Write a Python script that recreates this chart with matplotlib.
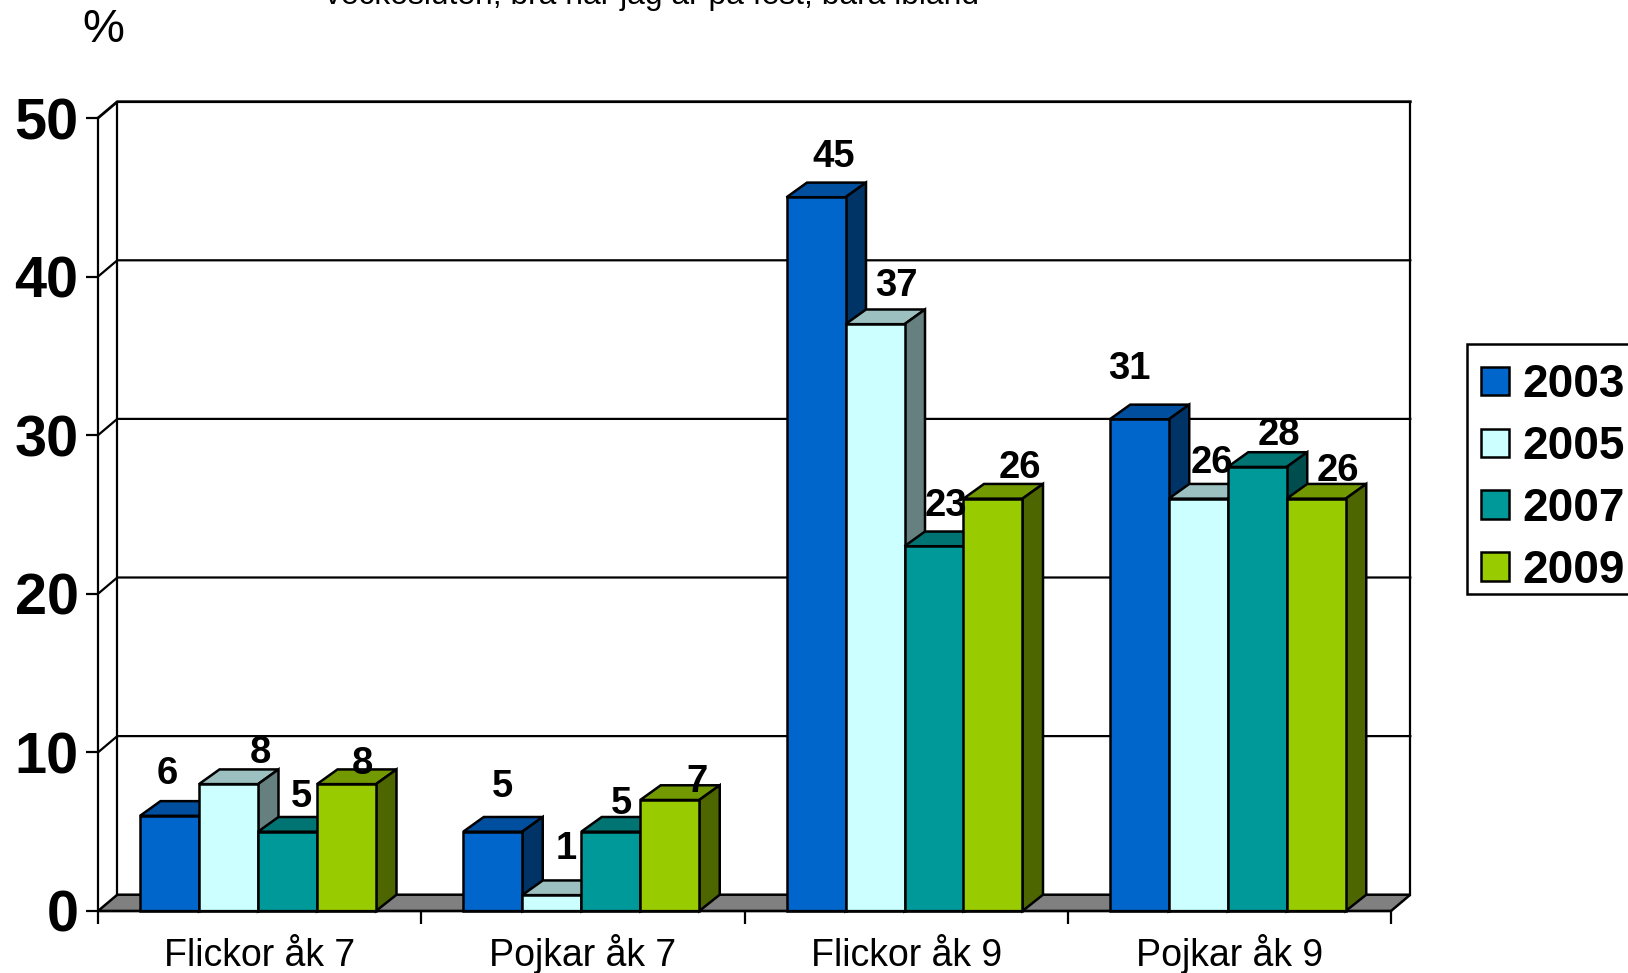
import matplotlib
matplotlib.use('Agg')
import matplotlib.pyplot as plt
from matplotlib.patches import Patch, Polygon, Rectangle

plt.rcParams['font.family'] = ['Liberation Sans', 'DejaVu Sans']

categories = ['Flickor åk 7', 'Pojkar åk 7', 'Flickor åk 9', 'Pojkar åk 9']
years = ['2003', '2005', '2007', '2009']
values_2003 = [6, 5, 45, 31]
values_2005 = [8, 1, 37, 26]
values_2007 = [5, 5, 23, 28]
values_2009 = [8, 7, 26, 26]
y_ticks = [0, 10, 20, 30, 40, 50]
title_text = 'veckosluten, bra när jag är på fest, bara ibland'

series = [values_2003, values_2005, values_2007, values_2009]
# front, top, side
colors = [('#0066CC', '#004E9E', '#003366'),
          ('#CCFFFF', '#9CC0C0', '#668080'),
          ('#009999', '#007373', '#004D4D'),
          ('#99CC00', '#739900', '#4D6600')]

# hand placed value labels, pixels from the bar's front top centre
label_dx = [[-2, 10, 18, -10], [32, 15, 21, 14], [14, 11, 12, 22], [16, 27, 27, 22]]
label_dy = [[42, 45, 40, 50], [31, 46, 38, 36], [35, 28, 40, 32], [20, 18, 31, 28]]

W, H = 1628, 973
fig = plt.figure(figsize=(W / 100, H / 100), dpi=100, facecolor='white')
ax = fig.add_axes([98 / W, 1 - 911 / H, (1391 - 98) / W, (911 - 118) / H])
ax.set_xlim(0, 4)
ax.set_ylim(0, 50)
ax.patch.set_visible(False)

wall_x = 19.3 / 323.25
wall_y = 16.3 / 15.86
bar_depth_x = 20.5 / 323.25
bar_depth_y = 14.7 / 15.86
bar_w = 59 / 323.25
group_off = 42 / 323.25
lw = 1.8
grid_lw = 1.6
z = 5


def poly(pts, color, zorder):
    ax.add_patch(Polygon(pts, closed=True, facecolor=color, edgecolor='black',
                         linewidth=lw, joinstyle='miter', clip_on=False, zorder=zorder))


# floor and back walls
poly([(0, 0), (wall_x, wall_y), (4 + wall_x, wall_y), (4, 0)], '#808080', 1)
for v in y_ticks[1:]:
    ax.plot([0, wall_x, 4 + wall_x], [v, v + wall_y, v + wall_y], color='black',
            lw=grid_lw if v < 50 else 2.0, clip_on=False, zorder=1)
ax.plot([wall_x, wall_x], [wall_y, 50 + wall_y], color='black', lw=grid_lw, clip_on=False, zorder=1)
ax.plot([4 + wall_x, 4 + wall_x], [wall_y, 50 + wall_y], color='black', lw=grid_lw, clip_on=False, zorder=1)

for g in range(len(categories)):
    for s, vals in enumerate(series):
        v = vals[g]
        left = g + group_off + s * bar_w
        right = left + bar_w
        front, top, side = colors[s]
        poly([(left, v), (left + bar_depth_x, v + bar_depth_y), (right + bar_depth_x, v + bar_depth_y), (right, v)], top, z)
        poly([(right, 0), (right + bar_depth_x, wall_y), (right + bar_depth_x, v + bar_depth_y), (right, v)], side, z)
        ax.bar(left, v, width=bar_w, align='edge', color=front, edgecolor='black',
               linewidth=lw, zorder=z + 1, clip_on=False)
        z += 2
        ax.annotate(str(v), xy=(left + bar_w / 2, v), xytext=(label_dx[s][g], label_dy[s][g]),
                    textcoords='offset pixels', ha='center', va='center', fontsize=27.5,
                    fontweight='bold', color='black', zorder=100, annotation_clip=False)

for name in ['top', 'right']:
    ax.spines[name].set_visible(False)
for name in ['left', 'bottom']:
    ax.spines[name].set_linewidth(grid_lw)
    ax.spines[name].set_zorder(90)

ax.set_yticks(y_ticks)
ax.set_yticklabels([str(t) for t in y_ticks], fontsize=41.5, fontweight='bold')
ax.tick_params(axis='y', length=9, width=grid_lw, pad=5)
ax.set_xticks(range(len(categories) + 1))
ax.set_xticklabels([])
ax.set_xticks([g + 0.5 for g in range(len(categories))], minor=True)
ax.set_xticklabels(categories, minor=True, fontsize=27)
ax.tick_params(axis='x', which='major', length=9, width=grid_lw)
ax.tick_params(axis='x', which='minor', length=0, pad=39.6)
for t in ax.get_xticklabels(minor=True):
    t.set_va('baseline')

fig.text(103 / W, 1 - 30 / H, '%', fontsize=34, ha='center', va='center')
fig.text(325 / W, 1 - 4 / H, title_text, fontsize=22.9, ha='left', va='baseline')

# legend box runs off the right edge of the picture
fig.add_artist(Rectangle((1467 / W, 1 - 594 / H), 240 / W, 250 / H, transform=fig.transFigure,
                         facecolor='white', edgecolor='black', linewidth=1.8, clip_on=False))
handles = [Patch(facecolor=c[0], edgecolor='black', linewidth=1.8) for c in colors]
leg = fig.legend(handles, years, loc='upper left', bbox_to_anchor=(1481 / W, 1 - 363 / H),
                 bbox_transform=fig.transFigure, borderaxespad=0, borderpad=0,
                 prop={'size': 33, 'weight': 'bold'}, labelspacing=0.39,
                 handlelength=0.61, handleheight=0.57, handletextpad=0.29,
                 frameon=False)

fig.savefig('out.png', dpi=100)
